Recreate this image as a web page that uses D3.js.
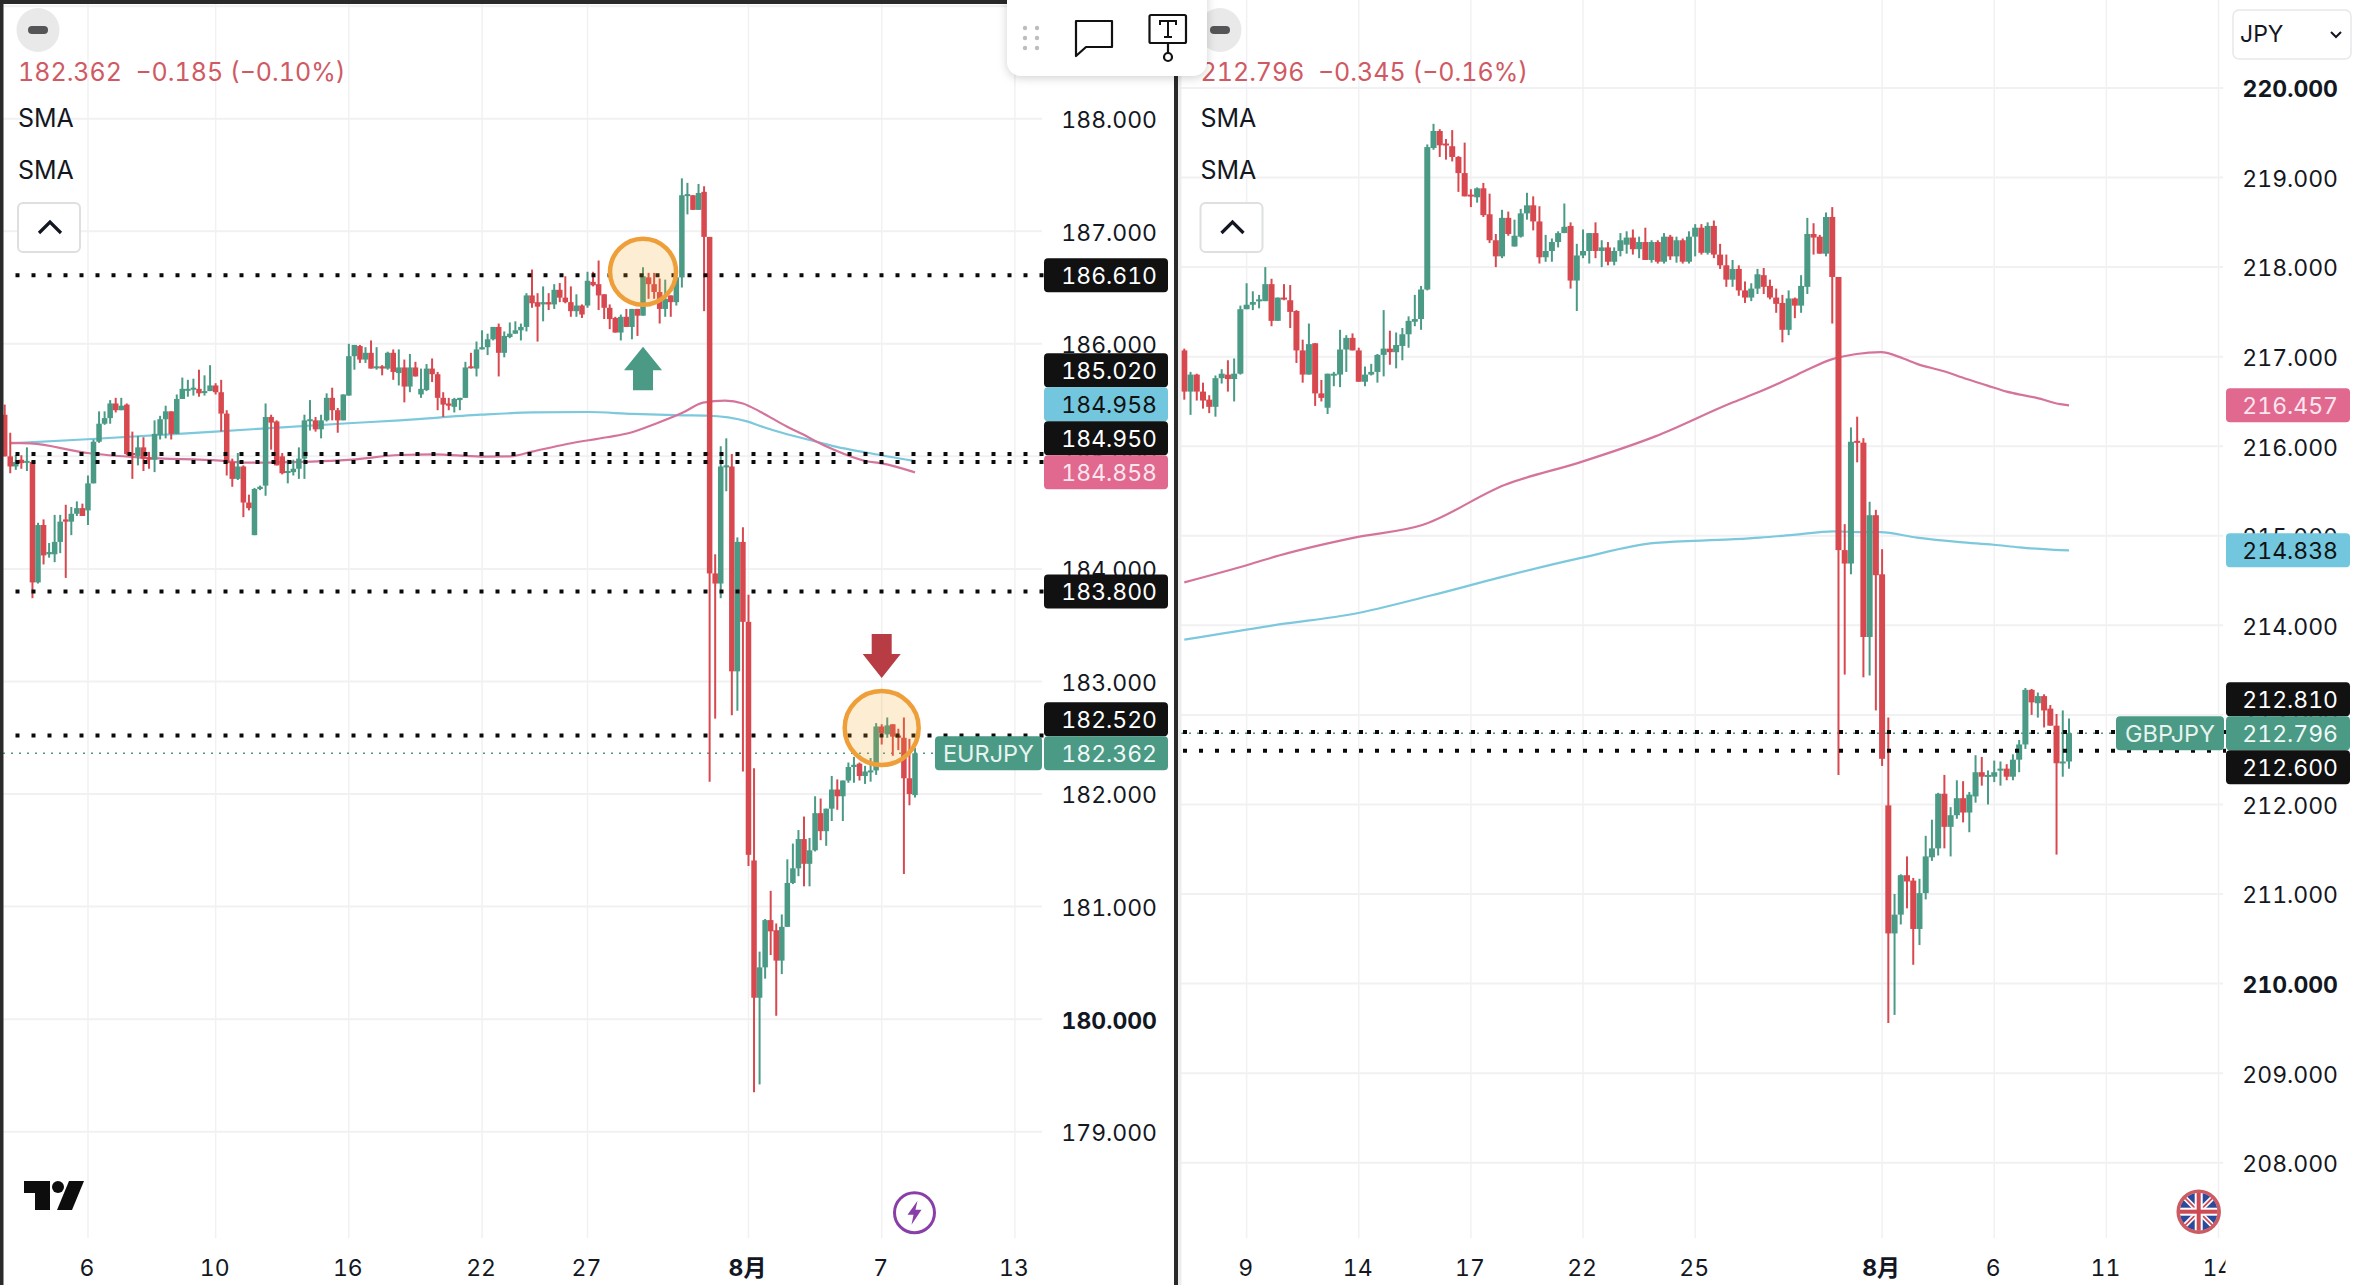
<!DOCTYPE html>
<html>
<head>
<meta charset="utf-8">
<script src="https://cdn.jsdelivr.net/npm/d3@7"></script>
<style>
  html, body { margin: 0; padding: 0; background: #fff; }
  svg { display: block; }
  text { font-family: Inter, "Noto Sans CJK JP", "Noto Sans", sans-serif; font-variant-numeric: tabular-nums; }
</style>
</head>
<body>
<svg id="chart" width="2360" height="1285"></svg>
<script>
/**
 * Two candle panels side by side, EURJPY on the left and GBPJPY on the right.
 * All prices.
 */

// EURJPY candles
const eurOpen = [
  185.37,185.00,184.91,184.97,184.95,184.95,183.88,184.39,184.13,184.13,
  184.24,184.44,184.42,184.49,184.54,184.52,184.76,185.13,185.29,185.34,
  185.47,185.41,185.46,185.03,185.00,185.08,184.99,184.97,185.19,185.33,
  185.40,185.20,185.51,185.59,185.60,185.60,185.57,185.58,185.63,185.57,
  185.38,184.95,184.80,184.91,184.59,184.30,184.71,184.74,185.35,185.31,
  185.00,184.86,184.86,184.89,184.98,185.32,185.32,185.24,185.32,185.52,
  185.41,185.32,185.54,185.89,185.98,185.86,185.92,185.79,185.80,185.78,
  185.92,185.74,185.79,185.62,185.79,185.55,185.59,185.78,185.73,185.52,
  185.47,185.44,185.50,185.52,185.80,185.78,185.95,185.97,186.04,186.15,
  185.92,186.06,186.09,186.12,186.15,186.43,186.37,186.35,186.37,186.35,
  186.48,186.41,186.37,186.29,186.34,186.34,186.55,186.53,186.44,186.32,
  186.23,186.10,186.24,186.15,186.31,186.25,186.59,186.53,186.46,186.31,
  186.43,186.37,186.59,187.32,187.32,187.19,187.35,186.95,183.96,183.87,
  184.91,184.91,183.09,184.24,183.53,181.41,180.19,180.46,180.88,180.79,
  180.52,180.82,181.21,181.34,181.60,181.38,181.50,181.83,181.67,181.87,
  182.04,181.98,182.12,182.24,182.27,182.16,182.20,182.21,182.60,182.53,
  182.62,182.52,182.50,182.14,181.99];
const eurHigh = [
  185.46,185.21,185.01,185.01,185.08,184.96,184.41,184.44,184.23,184.48,
  184.48,184.57,184.55,184.60,184.58,184.83,185.15,185.40,185.40,185.50,
  185.52,185.52,185.47,185.22,185.18,185.17,185.04,185.32,185.36,185.45,
  185.40,185.55,185.70,185.68,185.69,185.77,185.72,185.81,185.65,185.68,
  185.41,184.98,185.03,184.92,184.66,184.72,184.74,185.47,185.37,185.32,
  185.03,184.97,184.97,185.08,185.37,185.50,185.35,185.37,185.56,185.61,
  185.43,185.55,186.00,185.99,185.99,185.97,186.03,185.97,185.81,185.93,
  185.95,185.95,185.86,185.91,185.84,185.78,185.82,185.87,185.75,185.57,
  185.52,185.52,185.52,185.84,185.92,186.02,186.12,186.09,186.15,186.18,
  186.11,186.19,186.20,186.18,186.45,186.66,186.45,186.51,186.45,186.53,
  186.54,186.60,186.51,186.44,186.35,186.64,186.64,186.74,186.44,186.35,
  186.24,186.26,186.31,186.31,186.31,186.68,186.63,186.63,186.58,186.57,
  186.43,186.66,187.47,187.43,187.32,187.42,187.40,186.95,184.13,185.09,
  185.16,185.02,184.28,184.37,183.77,182.23,180.60,180.89,181.14,180.85,
  180.93,181.42,181.56,181.68,181.80,181.61,181.98,181.96,181.87,182.16,
  182.13,182.12,182.28,182.33,182.28,182.25,182.32,182.63,182.62,182.68,
  182.62,182.58,182.68,182.49,182.41];
const eurLow = [
  185.00,184.85,184.88,184.89,184.87,183.74,183.87,184.04,184.10,184.06,
  184.14,183.92,184.30,184.47,184.47,184.39,184.76,185.12,185.28,185.29,
  185.39,185.41,185.01,184.80,184.92,184.87,184.89,184.86,185.15,185.16,
  185.15,185.20,185.51,185.53,185.54,185.53,185.54,185.58,185.55,185.22,
  184.83,184.73,184.79,184.46,184.52,184.30,184.70,184.65,185.06,184.92,
  184.84,184.76,184.83,184.80,184.80,185.23,185.22,185.16,185.31,185.32,
  185.21,185.32,185.54,185.77,185.83,185.83,185.78,185.77,185.72,185.77,
  185.68,185.63,185.48,185.57,185.71,185.52,185.58,185.66,185.41,185.35,
  185.41,185.39,185.41,185.52,185.78,185.71,185.95,185.90,186.03,185.71,
  185.88,186.05,186.09,186.03,186.11,186.32,186.02,186.20,186.30,186.31,
  186.37,186.36,186.24,186.24,186.23,186.32,186.51,186.30,186.22,186.13,
  186.10,186.03,186.15,186.04,186.07,186.25,186.40,186.40,186.18,186.24,
  186.24,186.34,186.50,187.15,187.19,187.19,186.29,182.11,182.67,183.74,
  184.69,182.70,182.74,182.20,181.36,179.35,179.42,180.36,180.57,180.03,
  180.40,180.82,181.20,181.27,181.18,181.18,181.49,181.59,181.54,181.76,
  181.86,181.76,182.10,182.10,182.12,182.09,182.11,182.17,182.44,182.50,
  182.34,182.39,181.29,181.90,181.97];
const eurClose = [
  185.00,184.91,184.95,184.94,184.96,183.88,184.39,184.12,184.15,184.24,
  184.42,184.42,184.49,184.54,184.47,184.76,185.13,185.29,185.34,185.47,
  185.41,185.45,185.02,185.01,185.08,184.98,184.97,185.20,185.33,185.40,
  185.20,185.51,185.60,185.60,185.61,185.56,185.58,185.63,185.57,185.38,
  184.94,184.80,184.91,184.59,184.54,184.71,184.73,185.35,185.30,184.92,
  184.85,184.87,184.89,184.98,185.32,185.33,185.24,185.32,185.52,185.41,
  185.32,185.55,185.89,185.99,185.86,185.92,185.78,185.80,185.78,185.92,
  185.75,185.79,185.62,185.79,185.71,185.60,185.78,185.73,185.52,185.46,
  185.45,185.51,185.52,185.79,185.79,185.95,185.97,186.04,186.15,185.92,
  186.07,186.09,186.12,186.15,186.43,186.36,186.33,186.37,186.35,186.48,
  186.41,186.37,186.29,186.34,186.26,186.56,186.52,186.43,186.32,186.22,
  186.10,186.24,186.15,186.31,186.25,186.60,186.53,186.46,186.31,186.40,
  186.37,186.59,187.32,187.33,187.19,187.34,186.95,183.96,183.87,184.91,
  184.92,183.09,184.24,183.53,181.46,180.19,180.46,180.88,180.78,180.52,
  180.82,181.21,181.34,181.60,181.38,181.50,181.83,181.67,181.87,182.04,
  181.98,182.12,182.24,182.26,182.16,182.20,182.21,182.60,182.54,182.61,
  182.51,182.50,182.14,182.00,182.362];

// EURJPY moving averages, [candle index] and [price]
const eurBlueIdx = [0.95,14.9,37.9,61.9,71.2,85.8,95.2,105,113.2,122.2,126.4,133.9,136.1,140.2,146.3,149.9,155.2,164];
const eurBlueVal = [185.116,185.152,185.22,185.294,185.32,185.37,185.39,185.394,185.377,185.365,185.362,185.309,185.27,185.207,185.13,185.084,185.034,184.958];
const eurPinkIdx = [0.95,4.6,14.9,24.9,38.8,43.8,47.3,61.9,71.2,77.2,85.8,91.1,95,101.3,108.5,112.7,117.5,122.2,125.8,129.8,133,136.1,140.9,143.8,146.3,149.3,155.2,158,164];
const eurPinkVal = [185.12,185.116,185.03,184.989,184.962,184.944,184.945,184.968,185.012,185.018,184.998,185.0,185.042,185.11,185.17,185.21,185.294,185.389,185.477,185.495,185.47,185.397,185.265,185.196,185.13,185.06,184.957,184.938,184.858];

const eurPriceTicks = [188,187,186,185,184,183,182,181,180,179];
const eurBoldPrices = [180];
const eurDateIdx = [15,38,62,86,105,134,158,182];
const eurDateLabels = ["6","10","16","22","27","8月","7","13"];
const eurDotted = [186.61,185.02,184.95,183.8,182.52];
const eurTagValues = [186.61,185.02,184.958,184.95,184.858,183.8,182.52,182.362];
const eurTagKinds = ["line","line","blue","line","pink","line","line","price"];

// GBPJPY candles
const gbpOpen = [
  217.07,216.61,216.80,216.61,216.52,216.44,216.76,216.80,216.75,216.81,
  217.53,217.58,217.63,217.62,217.81,217.40,217.66,217.63,217.51,217.07,
  216.80,217.15,216.59,216.43,216.80,216.80,217.08,217.21,217.07,216.72,
  216.80,216.83,217.02,217.09,217.05,217.12,217.25,217.39,217.42,217.75,
  219.33,219.52,219.38,219.35,219.23,219.05,218.81,218.78,218.88,218.59,
  218.30,218.12,218.55,218.23,218.34,218.60,218.69,218.51,218.11,218.18,
  218.28,218.38,218.46,217.85,218.13,218.18,218.38,218.18,218.22,218.06,
  218.18,218.25,218.33,218.20,218.28,218.08,218.28,218.06,218.34,218.12,
  218.30,218.06,218.34,218.44,218.16,218.46,218.14,218.02,217.86,217.98,
  217.74,217.66,217.76,217.91,217.79,217.66,217.60,217.30,217.65,217.57,
  217.78,218.37,218.34,218.15,218.56,217.89,214.84,214.69,216.06,216.04,
  213.87,215.23,214.57,211.99,210.56,210.77,211.21,211.15,210.61,211.01,
  211.41,211.51,212.12,211.75,211.88,212.07,211.91,212.09,212.36,212.31,
  212.31,212.39,212.40,212.31,212.50,212.67,213.28,213.13,213.21,213.07,
  212.88,212.46,212.48];
const gbpHigh = [
  217.09,216.83,216.81,216.71,216.57,216.79,216.86,216.96,216.98,217.57,
  217.82,217.73,217.69,218.00,217.87,217.66,217.81,217.80,217.52,217.19,
  217.37,217.15,216.74,216.81,216.83,217.30,217.24,217.26,217.10,216.89,
  216.92,217.03,217.52,217.29,217.27,217.32,217.45,217.69,217.79,219.37,
  219.60,219.54,219.43,219.53,219.24,219.39,218.87,218.89,218.94,218.82,
  218.37,218.64,218.62,218.53,218.65,218.83,218.79,218.68,218.36,218.32,
  218.40,218.71,218.50,218.26,218.42,218.38,218.50,218.30,218.28,218.22,
  218.38,218.40,218.42,218.34,218.44,218.30,218.30,218.38,218.36,218.34,
  218.32,218.40,218.48,218.48,218.50,218.52,218.26,218.14,218.08,218.02,
  217.84,217.82,217.98,217.99,217.86,217.76,217.69,217.74,217.66,217.91,
  218.55,218.49,218.36,218.61,218.67,217.89,215.13,216.21,216.33,216.09,
  215.38,215.29,214.85,212.97,211.00,211.22,211.42,211.18,211.17,211.65,
  211.83,212.13,212.33,211.97,212.27,212.26,212.14,212.55,212.53,212.38,
  212.49,212.48,212.45,212.56,212.72,213.30,213.29,213.25,213.23,213.11,
  213.01,213.05,212.96];
const gbpLow = [
  216.52,216.35,216.51,216.42,216.37,216.33,216.70,216.61,216.50,216.80,
  217.53,217.52,217.54,217.62,217.34,217.40,217.63,217.32,216.93,216.71,
  216.80,216.45,216.50,216.36,216.67,216.66,216.83,217.07,216.72,216.67,
  216.79,216.71,216.78,216.91,216.87,216.96,217.10,217.34,217.30,217.74,
  219.31,219.23,219.20,219.18,218.84,218.79,218.67,218.72,218.56,218.27,
  218.00,218.10,218.35,218.23,218.33,218.53,218.41,218.04,218.06,218.06,
  218.22,218.38,217.76,217.51,218.10,218.04,218.10,218.00,218.02,218.02,
  218.12,218.15,218.14,218.10,218.08,218.05,218.04,218.04,218.08,218.05,
  218.04,218.04,218.12,218.14,218.14,218.10,217.98,217.78,217.78,217.68,
  217.60,217.62,217.70,217.70,217.64,217.49,217.16,217.24,217.43,217.49,
  217.70,218.14,218.15,218.12,217.37,212.33,213.45,214.57,215.82,213.42,
  213.44,213.05,212.43,209.56,209.65,210.66,210.84,210.21,210.43,210.94,
  211.37,211.43,211.51,211.42,211.84,211.80,211.69,212.02,212.21,212.00,
  212.25,212.21,212.27,212.27,212.36,212.62,213.00,212.97,212.86,212.88,
  211.44,212.31,212.40];
const gbpClose = [
  216.61,216.80,216.61,216.51,216.44,216.76,216.81,216.75,216.81,217.53,
  217.58,217.61,217.64,217.81,217.40,217.66,217.64,217.50,217.07,216.80,
  217.14,216.59,216.54,216.81,216.81,217.08,217.21,217.07,216.72,216.80,
  216.83,217.02,217.09,217.05,217.13,217.25,217.40,217.42,217.75,219.34,
  219.52,219.36,219.36,219.23,219.05,218.79,218.79,218.88,218.58,218.30,
  218.12,218.55,218.37,218.35,218.60,218.69,218.51,218.11,218.18,218.28,
  218.38,218.45,217.85,218.13,218.18,218.38,218.18,218.22,218.06,218.18,
  218.30,218.33,218.20,218.28,218.08,218.28,218.06,218.34,218.12,218.30,
  218.06,218.34,218.44,218.16,218.46,218.14,218.02,217.86,217.98,217.74,
  217.66,217.76,217.92,217.78,217.66,217.59,217.30,217.65,217.57,217.79,
  218.37,218.33,218.15,218.56,217.89,214.84,214.69,216.05,216.04,213.87,
  215.23,214.56,212.51,210.56,210.77,211.21,211.14,210.61,211.01,211.42,
  211.51,212.12,211.75,211.88,212.07,211.91,212.11,212.36,212.31,212.33,
  212.36,212.40,212.31,212.50,212.67,213.28,213.14,213.21,213.05,212.88,
  212.46,212.48,212.796];

const gbpPinkIdx = [0,10.4,15.2,27.3,38.2,51.5,63.5,75.6,87.7,92.4,96.9,99.9,103.9,107.9,111.8,115.4,117.6,121.8,125.6,128.8,132,134.6,136.8,140.6,142];
const gbpPinkVal = [214.48,214.68,214.78,214.98,215.12,215.57,215.82,216.11,216.48,216.61,216.75,216.85,216.97,217.03,217.05,216.98,216.92,216.84,216.75,216.68,216.61,216.57,216.54,216.47,216.457];
const gbpBlueIdx = [0,15.2,27.3,39.4,51.5,63.5,75.6,87.7,92.4,97.7,104.2,108.5,111.7,117.6,124.5,129.9,134.1,140.6,142];
const gbpBlueVal = [213.84,214.01,214.13,214.33,214.55,214.75,214.92,214.96,214.98,215.01,215.05,215.04,215.04,214.98,214.93,214.90,214.87,214.84,214.838];

const gbpPriceTicks = [220,219,218,217,216,215,214,213,212,211,210,209,208];
const gbpBoldPrices = [220,210];
const gbpDateIdx = [10,28,46,64,82,112,130,148,166];
const gbpDateLabels = ["9","14","17","22","25","8月","6","11","14"];
const gbpDotted = [212.81,212.6];
const gbpTagValues = [216.457,214.838,212.81,212.796,212.6];
const gbpTagKinds = ["pink","blue","line","price","line"];

const GREEN = "#4a9a85";
const RED = "#d8484f";
const PINK_LINE = "#d5749b";
const BLUE_LINE = "#7cc8dc";
const GRID = "#f1f1f3";
const TAG_H = 34;
const TAG_STYLE = {
  line: { bg: "#111111", fg: "#ffffff" },
  blue: { bg: "#72c7de", fg: "#111111" },
  pink: { bg: "#e1688f", fg: "#fbe6ee" },
  price: { bg: GREEN, fg: "#f2f8f6" },
};

const svg = d3.select("#chart");
const fmt = d3.format(".3f");

// Price tags get pushed away from the fixed ones (SMA end and last price)
function layoutTags(values, kinds, y) {
  const tags = values.map((v, i) => ({ v, kind: kinds[i], y: y(v), fixed: kinds[i] !== "line" && kinds[i] !== "blue" }));
  tags.sort((a, b) => a.y - b.y);
  for (let i = tags.length - 2; i >= 0; i--) {
    if (!tags[i].fixed) tags[i].y = Math.min(tags[i].y, tags[i + 1].y - TAG_H);
  }
  for (let i = 1; i < tags.length; i++) {
    if (!tags[i].fixed) tags[i].y = Math.max(tags[i].y, tags[i - 1].y + TAG_H);
  }
  return tags;
}

function drawPanel(p) {
  const g = svg.append("g");
  const x = d3.scaleLinear().domain([0, p.open.length - 1]).range(p.xRange);
  const y = d3.scaleLinear().domain(p.priceDomain).range(p.yRange);

  // grid
  g.append("g").selectAll("line").data(p.dateIdx).join("line")
    .attr("x1", (d) => x(d)).attr("x2", (d) => x(d))
    .attr("y1", 0).attr("y2", 1238)
    .attr("stroke", GRID).attr("stroke-width", 1.5);
  g.append("g").selectAll("line").data(p.gridPrices).join("line")
    .attr("x1", p.plotLeft).attr("x2", p.gridRight)
    .attr("y1", (d) => y(d)).attr("y2", (d) => y(d))
    .attr("stroke", GRID).attr("stroke-width", 2);

  // moving averages sit under the candles
  const line = d3.line().curve(d3.curveMonotoneX).x((d) => x(d[0])).y((d) => y(d[1]));
  [[p.blueIdx, p.blueVal, BLUE_LINE], [p.pinkIdx, p.pinkVal, PINK_LINE]].forEach((s) => {
    g.append("path")
      .attr("d", line(d3.zip(s[0], s[1])))
      .attr("fill", "none").attr("stroke", s[2]).attr("stroke-width", 2.2);
  });

  // last price line
  g.append("line")
    .attr("x1", p.plotLeft).attr("x2", p.lastLineEnd)
    .attr("y1", y(p.last)).attr("y2", y(p.last))
    .attr("stroke", GREEN).attr("stroke-width", 1.5).attr("stroke-dasharray", "2 6");

  // candles
  const candles = g.append("g").selectAll("g").data(d3.range(p.open.length)).join("g")
    .attr("fill", (i) => (p.close[i] >= p.open[i] ? GREEN : RED))
    .attr("stroke", (i) => (p.close[i] >= p.open[i] ? GREEN : RED));
  candles.append("line")
    .attr("x1", (i) => x(i)).attr("x2", (i) => x(i))
    .attr("y1", (i) => y(p.high[i])).attr("y2", (i) => y(p.low[i]))
    .attr("stroke-width", 2);
  candles.append("rect")
    .attr("x", (i) => x(i) - p.bodyW / 2)
    .attr("width", p.bodyW)
    .attr("y", (i) => y(Math.max(p.open[i], p.close[i])))
    .attr("height", (i) => Math.max(2, Math.abs(y(p.open[i]) - y(p.close[i]))))
    .attr("stroke", "none");

  // dotted levels
  g.append("g").selectAll("line").data(p.dotted).join("line")
    .attr("x1", p.dotLeft).attr("x2", p.tagLeft)
    .attr("y1", (d) => y(d)).attr("y2", (d) => y(d))
    .attr("stroke", "#0a0a0a").attr("stroke-width", 4).attr("stroke-dasharray", "4 12");

  // price axis, tags go over it
  const axis = d3.axisRight(y).tickValues(p.priceTicks).tickSize(0).tickPadding(0).tickFormat(fmt);
  const ag = g.append("g").attr("transform", `translate(${p.tickRight},1.5)`).call(axis);
  ag.select(".domain").remove();
  ag.selectAll("text")
    .attr("x", 0).attr("text-anchor", "end")
    .style("font-family", "Inter, sans-serif").style("font-size", "23px")
    .style("font-weight", (d) => (p.boldPrices.includes(d) ? 700 : 400))
    .attr("fill", "#131722");

  // date axis
  const dateAxis = d3.axisBottom(x).tickValues(p.dateIdx).tickSize(0).tickPadding(0)
    .tickFormat((d) => p.dateLabels[p.dateIdx.indexOf(d)]);
  const dg = g.append("g").attr("transform", "translate(-1.5,1256)").call(dateAxis);
  dg.select(".domain").remove();
  dg.selectAll("text")
    .attr("dy", "0.5em").attr("y", 8)
    .style("font-family", 'Inter, "Noto Sans CJK JP", sans-serif').style("font-size", "23px")
    .style("font-weight", (d) => (p.dateLabels[p.dateIdx.indexOf(d)] === "8月" ? 700 : 400))
    .attr("fill", "#131722");
  if (p.dateClip) dg.attr("clip-path", "url(#" + p.dateClip + ")");

  // price tags
  const tags = layoutTags(p.tagValues, p.tagKinds, y);
  const tg = g.append("g").selectAll("g").data(tags).join("g")
    .attr("transform", (d) => `translate(${p.tagLeft},${d.y - TAG_H / 2})`);
  tg.append("rect")
    .attr("width", p.tagW).attr("height", TAG_H).attr("rx", 4)
    .attr("fill", (d) => TAG_STYLE[d.kind].bg);
  tg.append("text")
    .attr("x", p.tickRight - p.tagLeft).attr("y", TAG_H / 2 + 9)
    .attr("text-anchor", "end").attr("font-size", 23)
    .attr("fill", (d) => TAG_STYLE[d.kind].fg)
    .text((d) => fmt(d.v));

  // symbol tag
  const lastY = y(p.last);
  g.append("rect")
    .attr("x", p.symLeft).attr("y", lastY - TAG_H / 2)
    .attr("width", p.tagLeft - p.symLeft - 2).attr("height", TAG_H).attr("rx", 4)
    .attr("fill", GREEN);
  g.append("text")
    .attr("x", (p.symLeft + p.tagLeft - 2) / 2).attr("y", lastY + 9)
    .attr("text-anchor", "middle").attr("font-size", 23.5).attr("fill", "#e8f3ef")
    .text(p.symbol);

  // legend
  const lx = p.legendX;
  g.append("ellipse").attr("cx", p.minusX).attr("cy", 30).attr("rx", 21.5).attr("ry", 22).attr("fill", "#e9e9ea");
  g.append("rect").attr("x", p.minusX - 10).attr("y", 26).attr("width", 20).attr("height", 8).attr("rx", 4).attr("fill", "#555558");
  g.append("text").attr("x", lx).attr("y", 81).attr("font-size", 25).attr("fill", "#cf5a63")
    .style("white-space", "pre").text(p.headline);
  g.selectAll(".sma").data([126.5, 178.5]).join("text")
    .attr("x", lx).attr("y", (d) => d).attr("font-size", 25).attr("fill", "#131722").text("SMA");
  g.append("rect").attr("x", lx).attr("y", 203).attr("width", 62).attr("height", 49).attr("rx", 5)
    .attr("fill", "#fff").attr("stroke", "#dedfe1").attr("stroke-width", 2);
  g.append("path").attr("d", `M${lx + 21},233 L${lx + 32},222 L${lx + 43},233`)
    .attr("fill", "none").attr("stroke", "#131722").attr("stroke-width", 3.2);

  return { x, y, g };
}

// clip for the cut off "14" on the right, in the date axis' own coordinates
svg.append("defs").append("clipPath").attr("id", "gbpDateClip")
  .append("rect").attr("x", 1181).attr("y", -20).attr("width", 1046).attr("height", 49);
svg.select("defs").append("clipPath").attr("id", "flagClip")
  .append("circle").attr("cx", 2198.7).attr("cy", 1211.7).attr("r", 19);

const eur = drawPanel({
  open: eurOpen, high: eurHigh, low: eurLow, close: eurClose,
  blueIdx: eurBlueIdx, blueVal: eurBlueVal, pinkIdx: eurPinkIdx, pinkVal: eurPinkVal,
  priceTicks: eurPriceTicks, boldPrices: eurBoldPrices, gridPrices: d3.range(179, 190),
  dateIdx: eurDateIdx, dateLabels: eurDateLabels,
  dotted: eurDotted, tagValues: eurTagValues, tagKinds: eurTagKinds,
  priceDomain: [188, 179], yRange: [118.7, 1131.7], xRange: [4.7, 915],
  bodyW: 5.5, plotLeft: 3, gridRight: 1042, dotLeft: 15.5, tagLeft: 1044, tagW: 124, tickRight: 1157,
  last: 182.362, lastLineEnd: 935, symLeft: 935, symbol: "EURJPY",
  legendX: 18, minusX: 38, headline: "182.362  \u22120.185 (\u22120.10%)",
});

const gbp = drawPanel({
  open: gbpOpen, high: gbpHigh, low: gbpLow, close: gbpClose,
  blueIdx: gbpBlueIdx, blueVal: gbpBlueVal, pinkIdx: gbpPinkIdx, pinkVal: gbpPinkVal,
  priceTicks: gbpPriceTicks, boldPrices: gbpBoldPrices, gridPrices: gbpPriceTicks,
  dateIdx: gbpDateIdx, dateLabels: gbpDateLabels, dateClip: "gbpDateClip",
  dotted: gbpDotted, tagValues: gbpTagValues, tagKinds: gbpTagKinds,
  priceDomain: [220, 208], yRange: [88, 1162.7], xRange: [1184.3, 2069],
  bodyW: 6, plotLeft: 1181, gridRight: 2223, dotLeft: 1183, tagLeft: 2226, tagW: 124, tickRight: 2338,
  last: 212.796, lastLineEnd: 2116, symLeft: 2116, symbol: "GBPJPY",
  legendX: 1200.5, minusX: 1220, headline: "212.796  \u22120.345 (\u22120.16%)",
});

// annotations on the left panel
const annotate = eur.g.append("g");
const circleIdx = [115, 158];
const circlePrice = [186.64, 182.587];
const circleR = [33, 37];
annotate.selectAll("circle").data(circleIdx).join("circle")
  .attr("cx", (d) => eur.x(d))
  .attr("cy", (d, i) => eur.y(circlePrice[i]))
  .attr("r", (d, i) => circleR[i])
  .attr("fill", "#f5a623").attr("fill-opacity", 0.2)
  .attr("stroke", "#ee9f3a").attr("stroke-width", 4.5);

const upX = eur.x(115), upY = eur.y(185.974);
annotate.append("path")
  .attr("d", `M${upX},${upY} l19,23.5 h-9 v20 h-20 v-20 h-9 z`)
  .attr("fill", GREEN);
const downX = eur.x(158), downY = eur.y(183.03);
annotate.append("path")
  .attr("d", `M${downX},${downY} l19,-24 h-9 v-20 h-20 v20 h-9 z`)
  .attr("fill", "#b83c44");

// TradingView logo
const logo = svg.append("g").attr("fill", "#0d0d0d");
logo.append("path").attr("d", "M24,1181 H50 V1210 H35 V1193 H24 Z");
logo.append("circle").attr("cx", 58).attr("cy", 1187).attr("r", 6);
logo.append("path").attr("d", "M69,1181 H84 L72,1210 H57 Z");

// lightning badge
const bolt = svg.append("g").attr("transform", "translate(914.5,1212.7)");
bolt.append("circle").attr("r", 20).attr("fill", "#fff").attr("stroke", "#8a3fa8").attr("stroke-width", 3);
bolt.append("path").attr("d", "M3,-12 L-7,2 L-1,2 L-3,12 L7,-3 L1,-3 Z").attr("fill", "#8a3fa8");

// flag badge
const flag = svg.append("g").attr("clip-path", "url(#flagClip)");
flag.append("rect").attr("x", 2178).attr("y", 1190).attr("width", 42).attr("height", 44).attr("fill", "#2b4a9b");
const fx = 2198.7, fy = 1211.7;
[[-20, -20, 20, 20], [-20, 20, 20, -20]].forEach((d) => {
  flag.append("line").attr("x1", fx + d[0]).attr("y1", fy + d[1]).attr("x2", fx + d[2]).attr("y2", fy + d[3])
    .attr("stroke", "#fff").attr("stroke-width", 5);
  flag.append("line").attr("x1", fx + d[0]).attr("y1", fy + d[1]).attr("x2", fx + d[2]).attr("y2", fy + d[3])
    .attr("stroke", "#cc4b55").attr("stroke-width", 1.8);
});
flag.append("rect").attr("x", fx - 4).attr("y", fy - 20).attr("width", 8).attr("height", 40).attr("fill", "#fff");
flag.append("rect").attr("x", fx - 20).attr("y", fy - 4).attr("width", 40).attr("height", 8).attr("fill", "#fff");
flag.append("rect").attr("x", fx - 2).attr("y", fy - 20).attr("width", 4).attr("height", 40).attr("fill", "#cc4b55");
flag.append("rect").attr("x", fx - 20).attr("y", fy - 2).attr("width", 40).attr("height", 4).attr("fill", "#cc4b55");
svg.append("circle").attr("cx", fx).attr("cy", fy).attr("r", 20.5).attr("fill", "none").attr("stroke", "#cc5b63").attr("stroke-width", 3.5);

// currency box
svg.append("rect").attr("x", 2233).attr("y", 10).attr("width", 118).attr("height", 49).attr("rx", 6)
  .attr("fill", "#fff").attr("stroke", "#e8e8ea").attr("stroke-width", 1.5);
svg.append("text").attr("x", 2240).attr("y", 42).attr("font-size", 23).attr("fill", "#131722").text("JPY");
svg.append("path").attr("d", "M2331,32 L2336,37 L2341,32").attr("fill", "none").attr("stroke", "#131722").attr("stroke-width", 2);

// frame
svg.append("rect").attr("x", 0).attr("y", 0).attr("width", 1180).attr("height", 4).attr("fill", "#2a2a2a");
svg.append("rect").attr("x", 0).attr("y", 0).attr("width", 3.5).attr("height", 1285).attr("fill", "#2a2a2a");
svg.append("rect").attr("x", 1174).attr("y", 0).attr("width", 4).attr("height", 1285).attr("fill", "#2a2a2a");
svg.append("rect").attr("x", 1178).attr("y", 0).attr("width", 3.5).attr("height", 1285).attr("fill", "#ededee");

// floating toolbar
const bar = svg.append("g");
bar.append("rect").attr("x", 1007).attr("y", -20).attr("width", 200).attr("height", 96).attr("rx", 14)
  .attr("fill", "#fff").style("filter", "drop-shadow(0 2px 5px rgba(0,0,0,0.18))");
bar.selectAll(".grip").data([[1025, 28], [1037, 28], [1025, 38], [1037, 38], [1025, 48], [1037, 48]]).join("circle")
  .attr("cx", (d) => d[0]).attr("cy", (d) => d[1]).attr("r", 2.2).attr("fill", "#bdbdbd");
bar.append("path").attr("d", "M1076,21 H1112 V47 H1086 L1076,56 Z")
  .attr("fill", "none").attr("stroke", "#111").attr("stroke-width", 2.2).attr("stroke-linejoin", "round");
bar.append("rect").attr("x", 1149.5).attr("y", 15).attr("width", 36.5).attr("height", 28).attr("rx", 1.5)
  .attr("fill", "none").attr("stroke", "#111").attr("stroke-width", 2.2);
bar.append("path").attr("d", "M1160,25 V21 H1176 V25 M1168,21 V37 M1164,37 H1172")
  .attr("fill", "none").attr("stroke", "#111").attr("stroke-width", 2);
bar.append("line").attr("x1", 1168).attr("x2", 1168).attr("y1", 43).attr("y2", 53).attr("stroke", "#111").attr("stroke-width", 2.2);
bar.append("circle").attr("cx", 1168).attr("cy", 57).attr("r", 4).attr("fill", "#fff").attr("stroke", "#111").attr("stroke-width", 2.2);
</script>
</body>
</html>
